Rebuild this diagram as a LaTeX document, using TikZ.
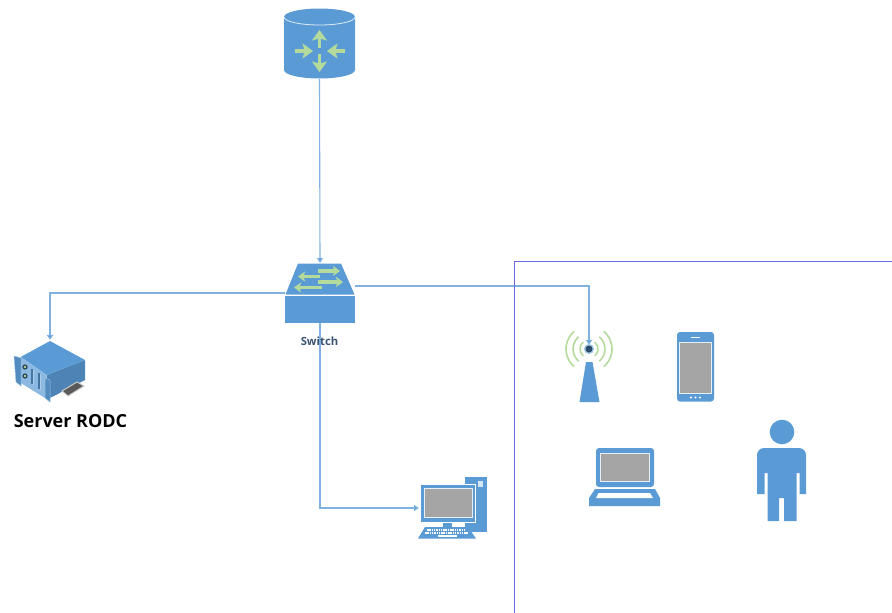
\documentclass[tikz,border=0pt]{standalone}
\usepackage{fontspec}
\setmainfont{Open Sans}
\usetikzlibrary{arrows.meta}
\definecolor{iconblue}{HTML}{5B9BD5}
\definecolor{linkblue}{HTML}{7FB2E0}
\definecolor{icongreen}{HTML}{B5DB9C}
\definecolor{screengrey}{HTML}{A5A5A5}
\definecolor{labelblue}{HTML}{3B5573}
\definecolor{boxviolet}{HTML}{6A6AE6}
\tikzset{
  hub/.style={minimum width=#1, inner sep=0pt},
  link/.style={draw=linkblue, line width=1.1pt, -{Triangle[width=6.5pt,length=5pt,fill=iconblue]}},
  flow/.style={draw=icongreen, line width=3.6pt, -{Stealth[width=#1pt,length=#1*0.7pt,inset=#1*0.15pt]}},
  body/.style={fill=iconblue},
  screen/.style={fill=screengrey, draw=white!85!iconblue, line width=0.8pt},
  wave/.style={draw=icongreen, line width=1.6pt}
}
\begin{document}
\begin{tikzpicture}[x=1pt, y=-1pt]
  \useasboundingbox (0,0) rectangle (892,613);
  % Anchors
  \node[hub=71pt, minimum height=70pt] (router) at (319.5,44) {};
  \node[hub=70pt, minimum height=60pt] (switch) at (320,293) {};
  \node[hub=72pt, minimum height=60pt] (server) at (50,370) {};
  \node[hub=68pt, minimum height=62pt] (desktop) at (453,508) {};
  \node[hub=21pt, minimum height=50pt] (antenna) at (589,370) {};

  % Connections
  \draw[link] (router.south) -- (switch.north);
  \draw[link] (switch.west) -| (server.north);
  \draw[link] (switch.south) |- (desktop.west);
  \draw[link] ([yshift=7pt]switch.east) -| (antenna.north);

  % Site border
  \draw[boxviolet, line width=1pt] (514.5,613) -- (514.5,261) -- (892,261);

  % Router
  \fill[body] (284,17) -- (284,70) arc[start angle=180, end angle=360, x radius=35.5, y radius=-8.5]
    -- (355,17) arc[start angle=0, end angle=180, x radius=35.5, y radius=-8.5] -- cycle;
  \draw[white!80!iconblue, line width=0.8pt] (284,17) arc[start angle=180, end angle=360, x radius=35.5, y radius=-8];
  \draw[flow=15] (319.5,48) -- (319.5,30);
  \draw[flow=15] (319.5,54) -- (319.5,72);
  \draw[flow=15] (295,51) -- (313,51);
  \draw[flow=15] (345,51) -- (327,51);

  % Switch
  \fill[body] (298,263.5) -- (341,263.5) -- (354.5,294.5) -- (285.5,294.5) -- cycle;
  \fill[body] (285,295.5) rectangle (355,323);
  \draw[flow=10] (318,271) -- (340,271);
  \draw[flow=10] (320,276.5) -- (298,276.5);
  \draw[flow=10] (318,282) -- (343,282);
  \draw[flow=10] (322,287.5) -- (294,287.5);
  \node[font=\bfseries\fontsize{11.3}{13}\selectfont, text=labelblue, inner sep=0pt] (switchlabel) at (319.5,341) {Switch};

  % Server
  \fill[iconblue!85!black] (46.7,375) -- (85,360) -- (85,380) -- (50,398) -- (46.7,398) -- cycle;
  \fill[iconblue] (50,341) -- (85,360) -- (46.7,375) -- (20.7,357) -- cycle;
  \fill[iconblue!70!white] (20.7,357) -- (46.7,375) -- (46.7,399) -- (20.7,383) -- cycle;
  \fill[iconblue!90!black, draw=white!40!iconblue, line width=0.5pt] (14,356) -- (21,358) -- (21,386) -- (16,382) -- cycle;
  \fill[iconblue!90!black, draw=white!40!iconblue, line width=0.5pt] (45,378) -- (50,380) -- (50,402) -- (45,398) -- cycle;
  \fill[black!60!iconblue] (25,367) circle (2.6);
  \fill[black!60!iconblue] (25,376) circle (2.6);
  \fill[icongreen] (25,367) circle (1.3);
  \fill[icongreen] (25,376) circle (1.3);
  \draw[iconblue!75!black, line width=2.4pt] (32,369) -- (32,384);
  \draw[white!50!iconblue, line width=1pt] (33.5,370) -- (33.5,385);
  \draw[iconblue!75!black, line width=2.4pt] (39,373) -- (39,389);
  \draw[white!50!iconblue, line width=1pt] (40.5,374) -- (40.5,390);
  \fill[black!65, draw=white!80!black, line width=1pt] (62,391) -- (77,382) -- (84,386) -- (68,396) -- cycle;
  \node[font=\bfseries\fontsize{18}{22}\selectfont, inner sep=0pt] (serverlabel) at (70.5,421) {Server RODC};

  % Desktop
  \fill[body] (465,477) rectangle (487,532);
  \fill[white!75!iconblue] (478,481) rectangle (483,487);
  \fill[white] (420,484) rectangle (476,523);
  \fill[body] (421,485) rectangle (475,522);
  \fill[screen] (424,488) rectangle (472,517);
  \fill[body] (443,522.5) rectangle (452,527);
  \fill[body] (425,527) -- (468,527) -- (476,538.5) -- (418,538.5) -- cycle;
  \draw[white, line width=1.3pt, dash pattern=on 1.5pt off 0.8pt] (427,530) -- (466,530);
  \draw[white, line width=1.3pt, dash pattern=on 1.5pt off 0.8pt] (425,533) -- (468,533);
  \draw[white, line width=1.3pt] (438,536) -- (457,536);

  % Antenna
  \fill[body] (586,362) -- (592.5,362) -- (599.5,402) -- (579.5,402) -- cycle;
  \foreach \rad in {9,16,23} {
    \draw[wave] (589,349) ++(-50:\rad) arc[start angle=-50, end angle=50, radius=\rad];
    \draw[wave] (589,349) ++(130:\rad) arc[start angle=130, end angle=230, radius=\rad];
  }
  \fill[iconblue!60!white] (589,349) circle (5);
  \fill[iconblue!50!black] (589,349) circle (3.5);

  % Phone
  \fill[body, rounded corners=3pt] (677,332) rectangle (714,401.5);
  \fill[screen] (679.5,342) rectangle (711.5,393);
  \draw[white, line width=1pt] (691,337) -- (700,337);
  \foreach \dotx in {691,695.5,700} {
    \fill[white] (\dotx,397.5) circle (1.1);
  }

  % Laptop
  \fill[body, rounded corners=3pt] (596,448) rectangle (654,487);
  \fill[screen] (600.5,453) rectangle (649,481);
  \fill[body] (595,489) -- (655,489) -- (660,498) -- (660,506) -- (589,506) -- (589,498) -- cycle;
  \fill[white] (598.5,493) -- (650,493) -- (653,498) -- (596,498) -- cycle;

  % User
  \fill[body] (782,432) circle (12.3);
  \fill[body] (757,494) [rounded corners=7pt] -- (757,448) -- (806,448) [sharp corners] -- (806,494)
    -- (799.5,494) -- (799.5,473) -- (796.5,473) -- (796.5,521) -- (784,521) -- (784,498) -- (779,498)
    -- (779,521) -- (767.5,521) -- (767.5,473) -- (764.5,473) -- (764.5,494) -- cycle;
\end{tikzpicture}
\end{document}
